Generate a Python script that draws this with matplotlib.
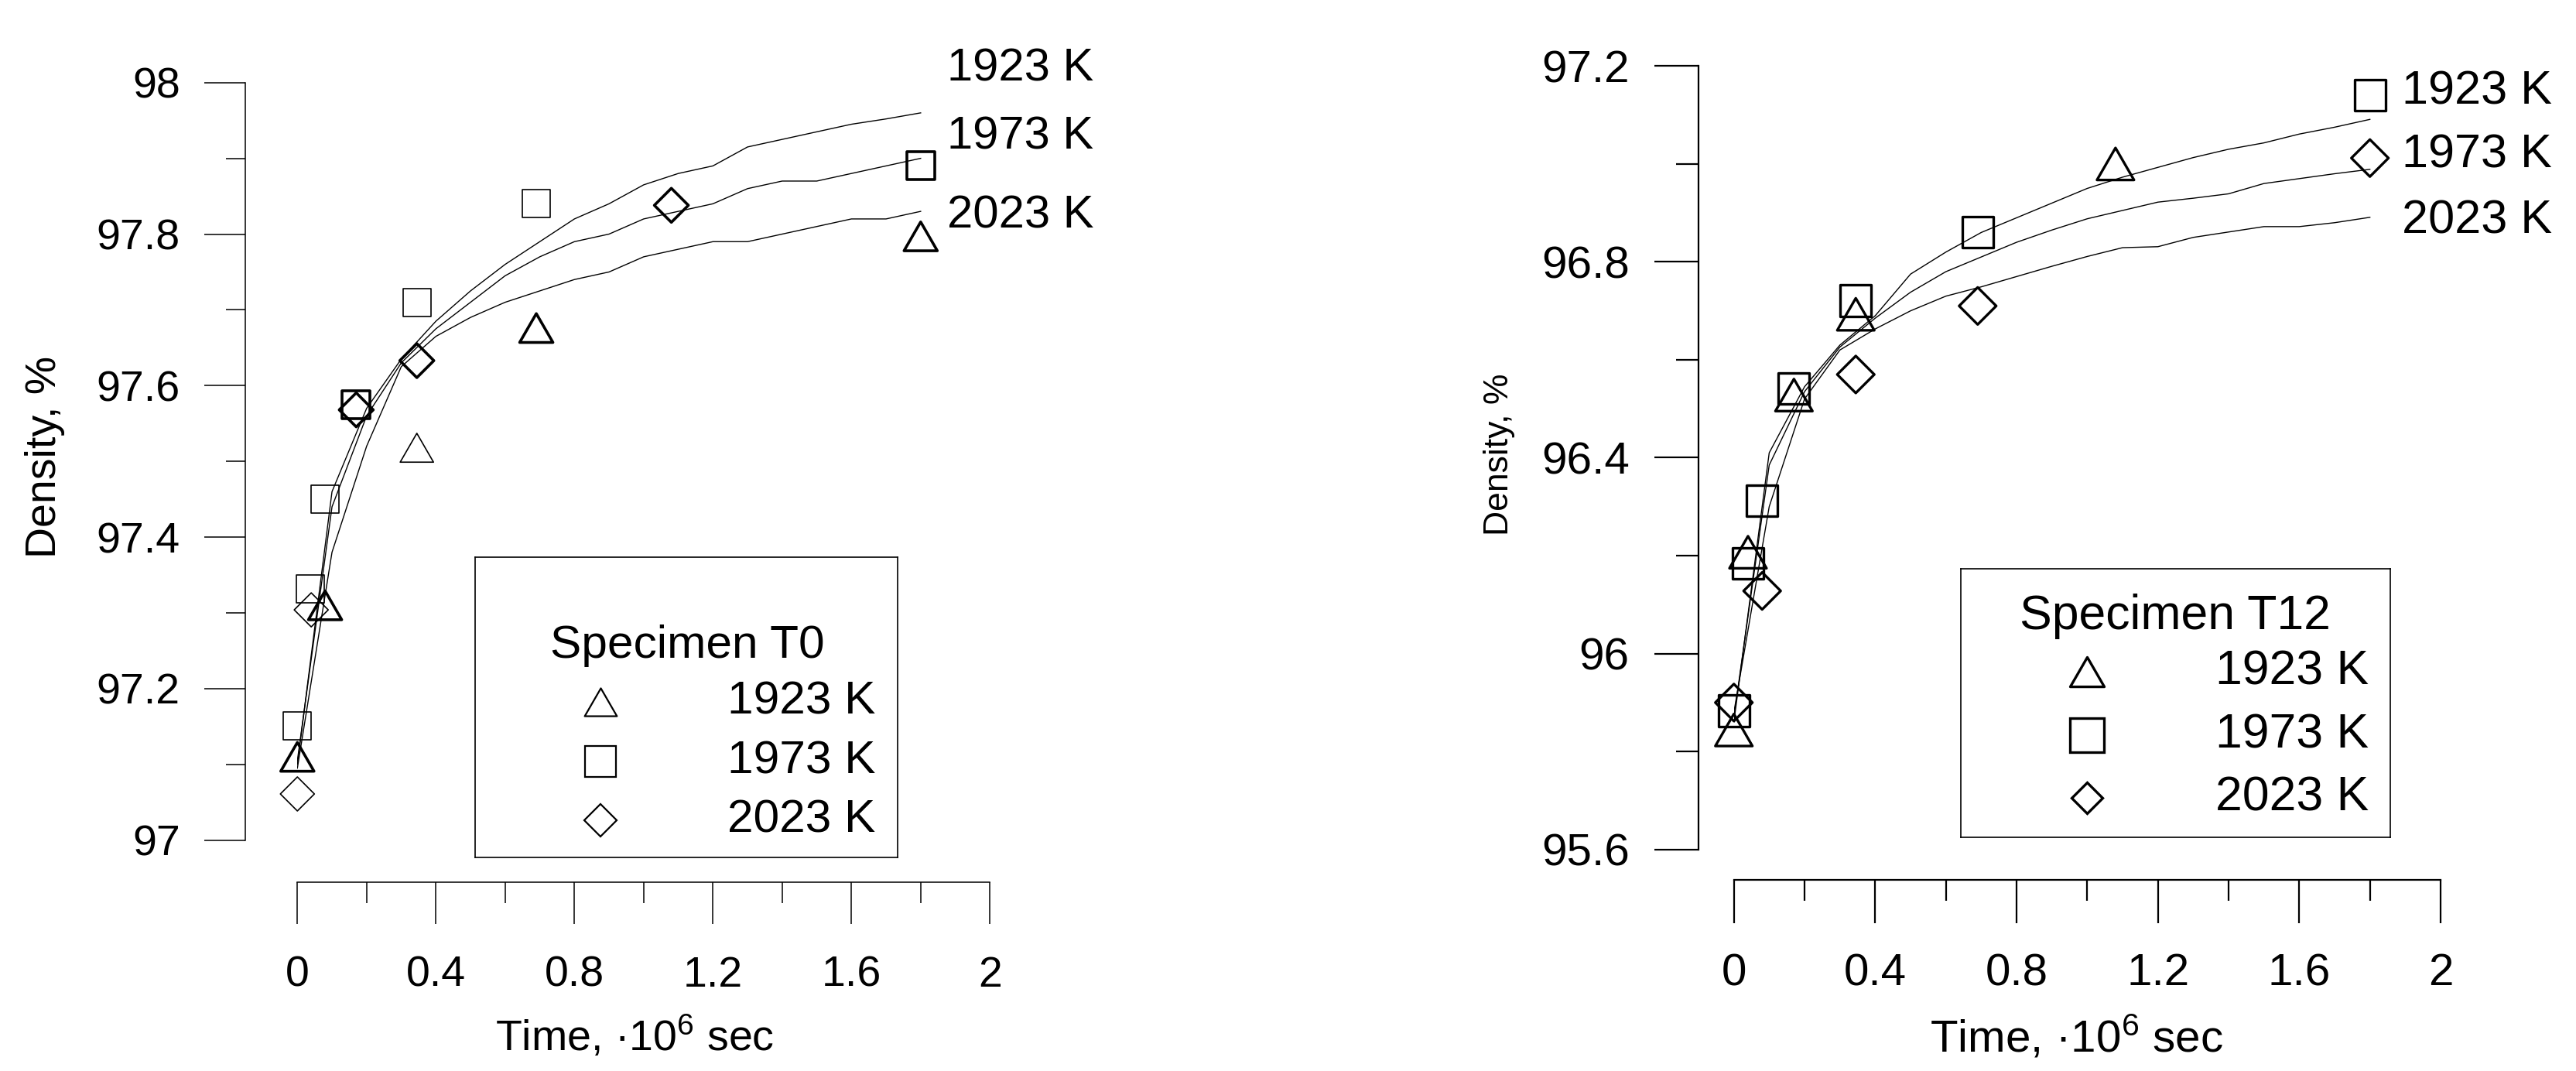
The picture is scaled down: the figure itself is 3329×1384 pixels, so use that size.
import matplotlib
matplotlib.use("Agg")
import matplotlib.pyplot as plt
from matplotlib.path import Path
from matplotlib.ticker import MultipleLocator, FuncFormatter

plt.rcParams['font.family'] = ['Liberation Sans', 'DejaVu Sans']
plt.rcParams['mathtext.fontset'] = 'custom'
plt.rcParams['mathtext.rm'] = 'Liberation Sans'
plt.rcParams['mathtext.it'] = 'Liberation Sans'

W, H = 3330, 1384

# ---- data, specimen T0 (time in 1e6 s, density in %)
t0_tri_x = [0, 0.08, 0.345, 0.69, 1.8]
t0_tri_y = [97.11, 97.31, 97.518, 97.676, 97.797]
t0_sq_x = [0, 0.038, 0.08, 0.17, 0.345, 0.69, 1.8]
t0_sq_y = [97.151, 97.332, 97.45, 97.575, 97.71, 97.84, 97.89]
t0_dia_x = [0, 0.04, 0.17, 0.345, 1.08]
t0_dia_y = [97.061, 97.304, 97.568, 97.633, 97.838]

fit_t = [0, 0.1, 0.2, 0.3, 0.4, 0.5, 0.6, 0.7, 0.8, 0.9,
         1.0, 1.1, 1.2, 1.3, 1.4, 1.5, 1.6, 1.7, 1.8]
t0_fit_a = [97.10, 97.46, 97.57, 97.635, 97.685, 97.725, 97.76, 97.79, 97.82, 97.84,
            97.865, 97.88, 97.89, 97.915, 97.925, 97.935, 97.945, 97.952, 97.96]
t0_fit_b = [97.105, 97.44, 97.56, 97.63, 97.675, 97.71, 97.745, 97.77, 97.79, 97.80,
            97.82, 97.83, 97.84, 97.86, 97.87, 97.87, 97.88, 97.89, 97.90]
t0_fit_c = [97.095, 97.38, 97.52, 97.625, 97.665, 97.69, 97.71, 97.725, 97.74, 97.75,
            97.77, 97.78, 97.79, 97.79, 97.80, 97.81, 97.82, 97.82, 97.83]

# ---- data, specimen T12
t12_tri_x = [0, 0.04, 0.17, 0.345, 1.08]
t12_tri_y = [95.844, 96.207, 96.528, 96.693, 97.0]
t12_sq_x = [0, 0.04, 0.08, 0.17, 0.345, 0.69, 1.8]
t12_sq_y = [95.883, 96.184, 96.312, 96.542, 96.721, 96.861, 97.14]
t12_dia_x = [0, 0.08, 0.345, 0.69, 1.8]
t12_dia_y = [95.90, 96.128, 96.57, 96.71, 97.012]

t12_fit_a = [95.86, 96.41, 96.545, 96.63, 96.69, 96.775, 96.82, 96.86, 96.89, 96.92,
             96.95, 96.973, 96.993, 97.013, 97.03, 97.043, 97.061, 97.075, 97.091]
t12_fit_b = [95.87, 96.385, 96.535, 96.626, 96.685, 96.738, 96.78, 96.81, 96.84, 96.865,
             96.888, 96.905, 96.922, 96.93, 96.939, 96.96, 96.97, 96.98, 96.989]
t12_fit_c = [95.88, 96.30, 96.52, 96.62, 96.663, 96.70, 96.73, 96.749, 96.77, 96.791,
             96.811, 96.829, 96.831, 96.85, 96.861, 96.872, 96.872, 96.88, 96.891]

temps = ["1923 K", "1973 K", "2023 K"]

# the scanned T0 plot has some markers drawn heavier than others
THIN, BOLD = 1.2, 2.6
t0_tri_lw = [BOLD, BOLD, THIN, BOLD, BOLD]
t0_sq_lw = [THIN, THIN, THIN, BOLD, THIN, THIN, BOLD]
t0_dia_lw = [THIN, THIN, BOLD, BOLD, BOLD]

# equilateral triangle marker, width = markersize
TRI = Path([(0, 0.433), (-0.5, -0.433), (0.5, -0.433), (0, 0.433)],
           [Path.MOVETO, Path.LINETO, Path.LINETO, Path.CLOSEPOLY])


def px_axes(fig, x0, x1, ytop, ybot):
    return fig.add_axes([x0 / W, 1 - ybot / H, (x1 - x0) / W, (ybot - ytop) / H])


def style_axes(ax, ylo, yhi, ymaj, ymin, out_l, out_b, lw, ticklen, pad, fs):
    ax.set_xlim(0, 2)
    ax.set_ylim(ylo, yhi)
    for s in ("top", "right"):
        ax.spines[s].set_visible(False)
    ax.spines["left"].set_position(("outward", out_l))
    ax.spines["bottom"].set_position(("outward", out_b))
    ax.spines["left"].set_bounds(ylo, yhi)
    ax.spines["bottom"].set_bounds(0, 2)
    for s in ("left", "bottom"):
        ax.spines[s].set_linewidth(lw)
    ax.xaxis.set_major_locator(MultipleLocator(0.4))
    ax.xaxis.set_minor_locator(MultipleLocator(0.2))
    ax.yaxis.set_major_locator(MultipleLocator(ymaj))
    ax.yaxis.set_minor_locator(MultipleLocator(ymin))
    fmt = FuncFormatter(lambda v, p: "%g" % round(v, 2))
    ax.xaxis.set_major_formatter(fmt)
    ax.yaxis.set_major_formatter(fmt)
    ax.tick_params(axis="both", which="both", direction="out", width=lw, labelsize=fs)
    ax.tick_params(axis="y", which="major", length=ticklen[0], pad=pad[0])
    ax.tick_params(axis="y", which="minor", length=ticklen[1])
    ax.tick_params(axis="x", which="major", length=ticklen[2], pad=pad[1])
    ax.tick_params(axis="x", which="minor", length=ticklen[3])
    ax.patch.set_alpha(0)


def markers(ax, x, y, mk, ms, lw):
    ax.scatter(x, y, s=ms ** 2, marker=mk, facecolors="none", edgecolors="black",
               linewidths=lw, clip_on=False, zorder=3)


def legend_box(fig, box, title, title_xy, rows, fs, mew):
    x0, y0, x1, y1 = box
    lax = fig.add_axes([x0 / W, 1 - y1 / H, (x1 - x0) / W, (y1 - y0) / H])
    lax.set_xlim(x0, x1)
    lax.set_ylim(y1, y0)
    lax.set_xticks([])
    lax.set_yticks([])
    for s in lax.spines.values():
        s.set_linewidth(1.2)
    lax.text(title_xy[0], title_xy[1], title, fontsize=fs, ha="left", va="center")
    for mx, my, mk, ms, tx, lab in rows:
        lax.plot([mx], [my], linestyle="none", marker=mk, ms=ms, mfc="none",
                 mec="black", mew=mew)
        lax.text(tx, my, lab, fontsize=fs, ha="right", va="center")


fig = plt.figure(figsize=(W / 100, H / 100), dpi=100)

# ---------------- left panel: specimen T0
ax1 = px_axes(fig, 384.3, 1279.3, 106.7, 1085.7)
style_axes(ax1, 97, 98, 0.2, 0.1, 48.2, 39.3, 1.1,
           (38, 18, 39, 19.4), (23, 29), 40)
for fy in (t0_fit_a, t0_fit_b, t0_fit_c):
    ax1.plot(fit_t, fy, color="black", lw=1.0)
markers(ax1, t0_tri_x, t0_tri_y, TRI, 31, t0_tri_lw)
markers(ax1, t0_sq_x, t0_sq_y, "s", 26, t0_sq_lw)
markers(ax1, t0_dia_x, t0_dia_y, "D", 22.4, t0_dia_lw)
for lab, yy in zip(temps, (98.018, 97.928, 97.824)):
    ax1.text(1.876, yy, lab, fontsize=43, ha="left", va="center", clip_on=False)

fig.text(58 / W, 1 - 590 / H, "Density, %", fontsize=40, rotation=90,
         ha="center", va="center")
fig.text(820 / W, 1 - 1341 / H, "Time, \u00b710$^{6}$ sec", fontsize=40,
         ha="center", va="center")

legend_box(fig, (614, 720, 1160, 1108), "Specimen T0", (711, 834),
           [(776, 907, TRI, 30, 1131, temps[0]),
            (776, 984, "s", 29, 1131, temps[1]),
            (776, 1060, "D", 21.4, 1131, temps[2])], 43.5, 1.6)

# ---------------- right panel: specimen T12
ax2 = px_axes(fig, 2240.7, 3154, 85.3, 1097.7)
style_axes(ax2, 95.6, 97.2, 0.4, 0.2, 33.1, 28.3, 1.6,
           (41, 21, 40, 19.4), (23, 28), 42)
for fy in (t12_fit_a, t12_fit_b, t12_fit_c):
    ax2.plot(fit_t, fy, color="black", lw=1.0)
mw2 = 2.4
markers(ax2, t12_tri_x, t12_tri_y, TRI, 34.5, mw2)
markers(ax2, t12_sq_x, t12_sq_y, "s", 29, mw2)
markers(ax2, t12_dia_x, t12_dia_y, "D", 24.4, mw2)
for lab, yy in zip(temps, (97.147, 97.017, 96.883)):
    ax2.text(1.89, yy, lab, fontsize=44, ha="left", va="center", clip_on=False)

fig.text(1938 / W, 1 - 587 / H, "Density, %", fontsize=32, rotation=90,
         ha="center", va="center")
fig.text(2683 / W, 1 - 1341 / H, "Time, \u00b710$^{6}$ sec", fontsize=42,
         ha="center", va="center")

legend_box(fig, (2534, 735, 3089, 1082), "Specimen T12", (2610, 797),
           [(2697, 868, TRI, 31.7, 3061, temps[0]),
            (2697, 950, "s", 31.7, 3061, temps[1]),
            (2697, 1031, "D", 20.4, 3061, temps[2])], 45, 2.4)

fig.savefig("out.png", dpi=100, facecolor="white")
